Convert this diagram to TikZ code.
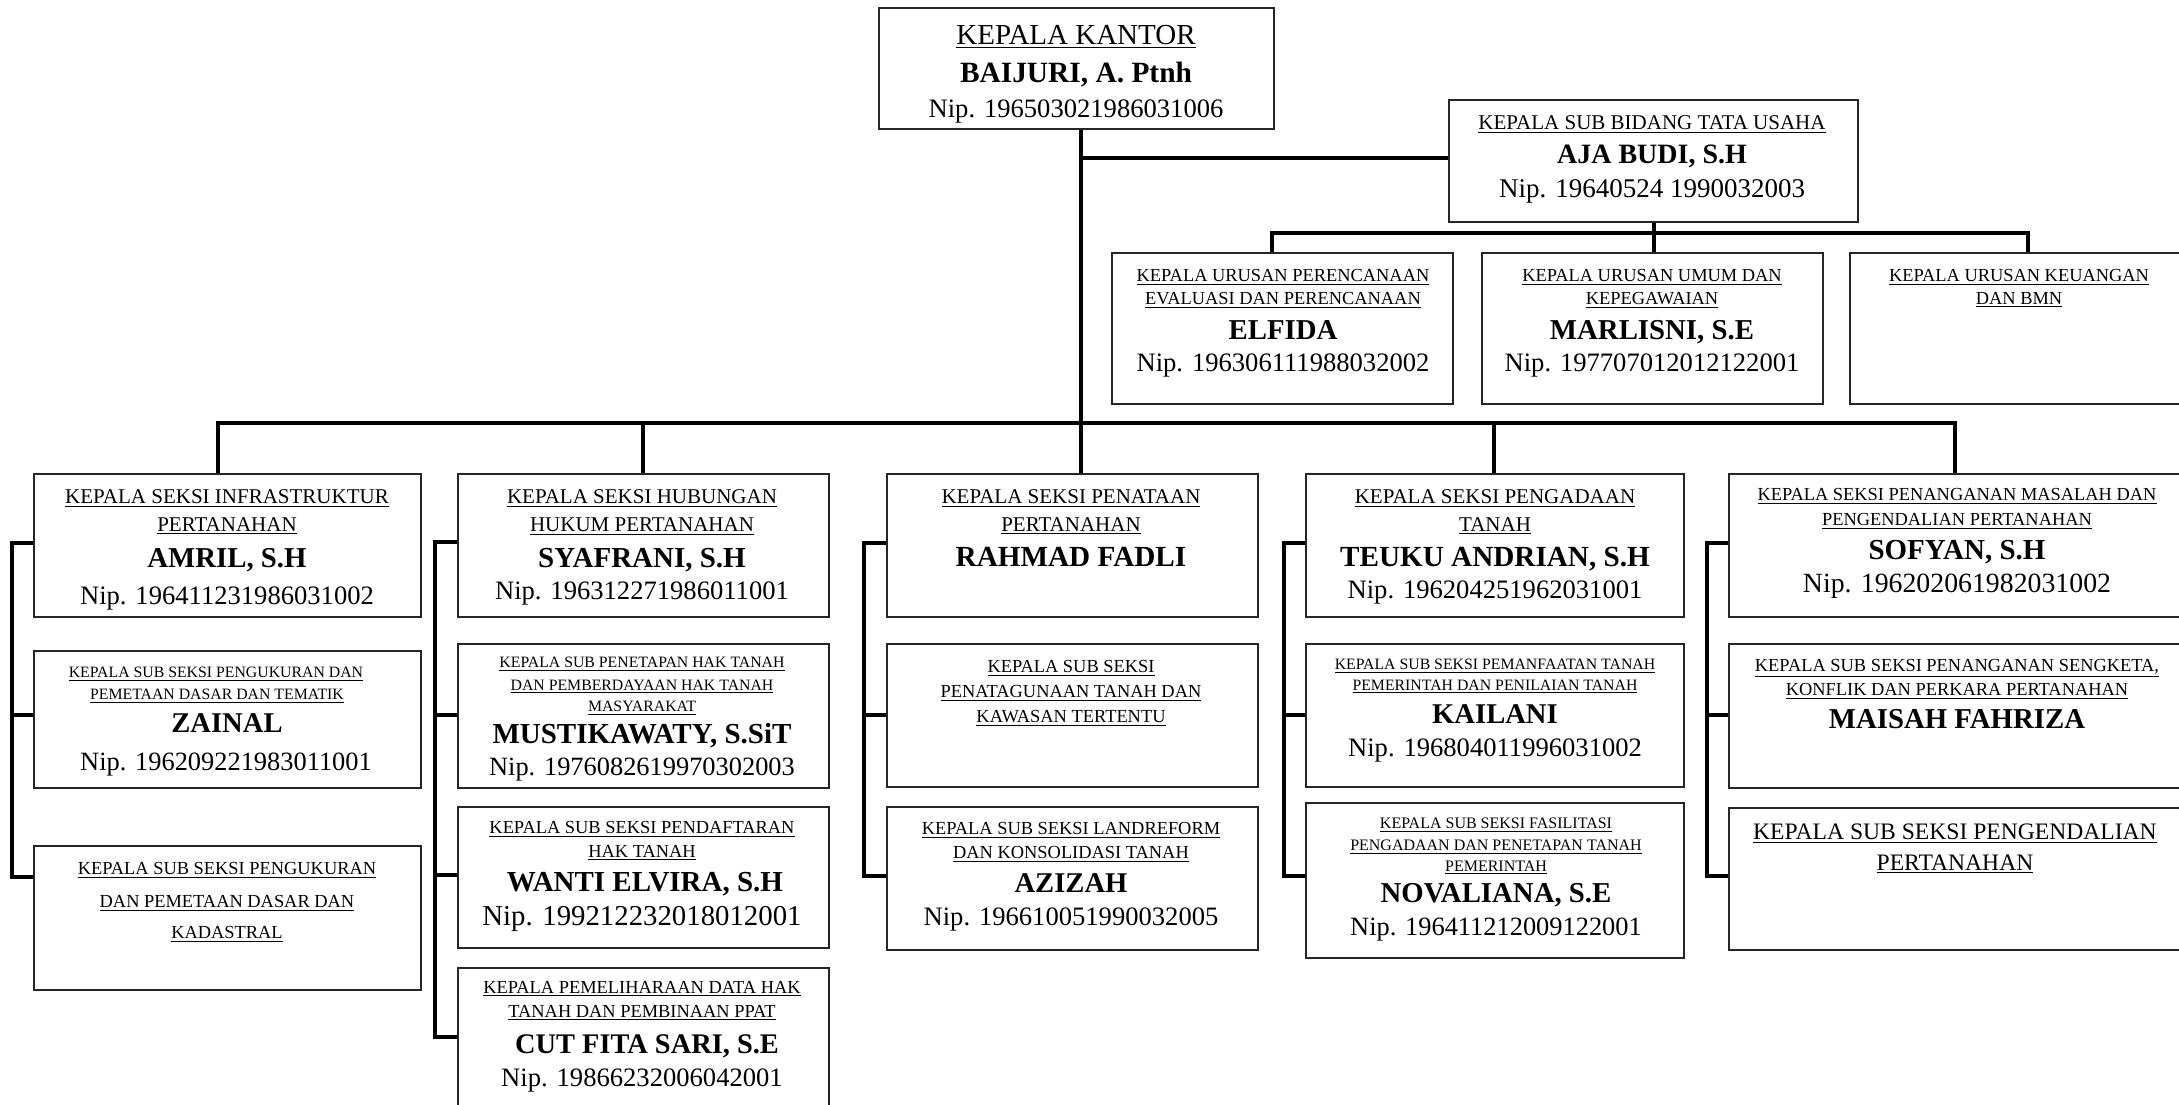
\documentclass[tikz,border=0pt]{standalone}
\usepackage{fontspec}
\setmainfont{Liberation Serif}

% box given by its top-left and bottom-right corners (in px units)
\newcommand\obox[5]{%
  \pgfmathsetmacro\obw{(#4-#2)*0.5}%
  \pgfmathsetmacro\obh{(#5-#3)*0.5}%
  \node[orgbox, anchor=north west, minimum width=\obw pt, minimum height=\obh pt] (#1) at (#2,#3) {};}
% one line of text, centred at x, sitting on baseline y, font size in pt
\newcommand\oline[5]{\node[lbl] (#1) at (#2,#3) {\fontsize{#4pt}{#4pt}\selectfont #5};}
\newcommand\otitle[5]{\oline{#1}{#2}{#3}{#4}{\underline{#5}}}
\newcommand\oname[5]{\oline{#1}{#2}{#3}{#4}{\bfseries #5}}

\begin{document}
\begin{tikzpicture}[x=0.5pt,y=-0.5pt,
  orgbox/.style={draw=black!85, line width=0.9pt, rectangle, inner sep=0pt},
  conn/.style={draw=black, line width=2pt, line join=miter},
  lbl/.style={anchor=base, inner sep=0pt, text=black}]

\useasboundingbox (0,0) rectangle (2179,1104);
\clip (0,0) rectangle (2179,1104);

% ---------- boxes ----------
\obox{kantor}{878}{7}{1273}{128}
\obox{ajabudi}{1448}{99}{1857}{221}
\obox{elfida}{1111}{252}{1452}{403}
\obox{marlisni}{1481}{252}{1822}{403}
\obox{keuangan}{1849}{252}{2189}{403}

\obox{amril}{33}{473}{420}{616}
\obox{zainal}{33}{650}{420}{787}
\obox{kadastral}{33}{845}{420}{989}

\obox{syafrani}{457}{473}{828}{616}
\obox{musti}{457}{643}{828}{787}
\obox{wanti}{457}{806}{828}{947}
\obox{cut}{457}{967}{828}{1130}

\obox{rahmad}{886}{473}{1257}{616}
\obox{tatagunaan}{886}{643}{1257}{786}
\obox{azizah}{886}{806}{1257}{949}

\obox{teuku}{1305}{473}{1683}{616}
\obox{kailani}{1305}{643}{1683}{786}
\obox{novaliana}{1305}{802}{1683}{957}

\obox{sofyan}{1728}{473}{2188}{616}
\obox{maisah}{1728}{643}{2188}{787}
\obox{kendali}{1728}{807}{2188}{949}

% ---------- texts ----------
\otitle{t-kk1}{1076}{44}{14.5}{KEPALA KANTOR}
\oname{t-kk2}{1076}{82}{14.7}{BAIJURI, A. Ptnh}
\oline{t-kk3}{1076}{117}{13.3}{Nip. 196503021986031006}

\otitle{t-ab1}{1652}{129}{10.5}{KEPALA SUB BIDANG TATA USAHA}
\oname{t-ab2}{1652}{163}{14}{AJA BUDI, S.H}
\oline{t-ab3}{1652}{197}{13.5}{Nip. 19640524 1990032003}

\otitle{t-el1}{1283}{281}{9.2}{KEPALA URUSAN PERENCANAAN}
\otitle{t-el2}{1283}{304}{9.2}{EVALUASI DAN PERENCANAAN}
\oname{t-el3}{1283}{339}{14.4}{ELFIDA}
\oline{t-el4}{1283}{371}{13.3}{Nip. 196306111988032002}

\otitle{t-ml1}{1652}{281}{9.2}{KEPALA URUSAN UMUM DAN}
\otitle{t-ml2}{1652}{304}{9.2}{KEPEGAWAIAN}
\oname{t-ml3}{1652}{339}{14.4}{MARLISNI, S.E}
\oline{t-ml4}{1652}{371}{13.3}{Nip. 197707012012122001}

\otitle{t-ku1}{2019}{281}{9.2}{KEPALA URUSAN KEUANGAN}
\otitle{t-ku2}{2019}{304}{9.2}{DAN BMN}

% column 1
\otitle{t-am1}{227}{503}{10.5}{KEPALA SEKSI INFRASTRUKTUR}
\otitle{t-am2}{227}{531}{10.5}{PERTANAHAN}
\oname{t-am3}{227}{567}{14.4}{AMRIL, S.H}
\oline{t-am4}{227}{604}{13.3}{Nip. 196411231986031002}

\otitle{t-za1}{216}{677}{7.9}{KEPALA SUB SEKSI PENGUKURAN DAN}
\otitle{t-za2}{217}{699}{7.9}{PEMETAAN DASAR DAN TEMATIK}
\oname{t-za3}{227}{732}{14.3}{ZAINAL}
\oline{t-za4}{226}{770}{13.2}{Nip. 196209221983011001}

\otitle{t-kd1}{227}{874}{9.2}{KEPALA SUB SEKSI PENGUKURAN}
\otitle{t-kd2}{227}{907}{9.2}{DAN PEMETAAN DASAR DAN}
\otitle{t-kd3}{227}{938}{9.2}{KADASTRAL}

% column 2
\otitle{t-sy1}{642}{503}{10.5}{KEPALA SEKSI HUBUNGAN}
\otitle{t-sy2}{642}{531}{10.5}{HUKUM PERTANAHAN}
\oname{t-sy3}{642}{567}{14.5}{SYAFRANI, S.H}
\oline{t-sy4}{642}{599}{13.3}{Nip. 196312271986011001}

\otitle{t-mu1}{642}{667}{7.9}{KEPALA SUB PENETAPAN HAK TANAH}
\otitle{t-mu2}{642}{690}{7.9}{DAN PEMBERDAYAAN HAK TANAH}
\otitle{t-mu3}{642}{711}{7.9}{MASYARAKAT}
\oname{t-mu4}{642}{743}{14.5}{MUSTIKAWATY, S.SiT}
\oline{t-mu5}{642}{775}{13.2}{Nip. 1976082619970302003}

\otitle{t-wa1}{642}{833}{9.2}{KEPALA SUB SEKSI PENDAFTARAN}
\otitle{t-wa2}{642}{857}{9.2}{HAK TANAH}
\oname{t-wa3}{645}{891}{14.5}{WANTI ELVIRA, S.H}
\oline{t-wa4}{642}{925}{14.4}{Nip. 199212232018012001}

\otitle{t-cu1}{642}{993}{9.2}{KEPALA PEMELIHARAAN DATA HAK}
\otitle{t-cu2}{642}{1017}{9.2}{TANAH DAN PEMBINAAN PPAT}
\oname{t-cu3}{647}{1053}{14.2}{CUT FITA SARI, S.E}
\oline{t-cu4}{642}{1086}{13.3}{Nip. 19866232006042001}

% column 3
\otitle{t-ra1}{1071}{503}{10.5}{KEPALA SEKSI PENATAAN}
\otitle{t-ra2}{1071}{531}{10.5}{PERTANAHAN}
\oname{t-ra3}{1071}{566}{14.6}{RAHMAD FADLI}

\otitle{t-tg1}{1071}{672}{9.2}{KEPALA SUB SEKSI}
\otitle{t-tg2}{1071}{697}{9.2}{PENATAGUNAAN TANAH DAN}
\otitle{t-tg3}{1071}{722}{9.2}{KAWASAN TERTENTU}

\otitle{t-az1}{1071}{834}{9.2}{KEPALA SUB SEKSI LANDREFORM}
\otitle{t-az2}{1071}{858}{9.2}{DAN KONSOLIDASI TANAH}
\oname{t-az3}{1071}{892}{14.3}{AZIZAH}
\oline{t-az4}{1071}{925}{13.3}{Nip. 196610051990032005}

% column 4
\otitle{t-te1}{1495}{503}{10.5}{KEPALA SEKSI PENGADAAN}
\otitle{t-te2}{1495}{531}{10.5}{TANAH}
\oname{t-te3}{1495}{566}{14.6}{TEUKU ANDRIAN, S.H}
\oline{t-te4}{1495}{598}{13.3}{Nip. 196204251962031001}

\otitle{t-ka1}{1495}{669}{7.9}{KEPALA SUB SEKSI PEMANFAATAN TANAH}
\otitle{t-ka2}{1495}{690}{7.9}{PEMERINTAH DAN PENILAIAN TANAH}
\oname{t-ka3}{1495}{723}{14.3}{KAILANI}
\oline{t-ka4}{1495}{756}{13.3}{Nip. 196804011996031002}

\otitle{t-no1}{1496}{828}{8}{KEPALA SUB SEKSI FASILITASI}
\otitle{t-no2}{1496}{850}{8}{PENGADAAN DAN PENETAPAN TANAH}
\otitle{t-no3}{1496}{871}{8}{PEMERINTAH}
\oname{t-no4}{1496}{902}{14.4}{NOVALIANA, S.E}
\oline{t-no5}{1496}{935}{13.2}{Nip. 196411212009122001}

% column 5
\otitle{t-so1}{1957}{500}{9.2}{KEPALA SEKSI PENANGANAN MASALAH DAN}
\otitle{t-so2}{1957}{525}{9.2}{PENGENDALIAN PERTANAHAN}
\oname{t-so3}{1957}{559}{14.5}{SOFYAN, S.H}
\oline{t-so4}{1957}{592}{13.9}{Nip. 196202061982031002}

\otitle{t-ma1}{1957}{671}{9.2}{KEPALA SUB SEKSI PENANGANAN SENGKETA,}
\otitle{t-ma2}{1957}{695}{9.2}{KONFLIK DAN PERKARA PERTANAHAN}
\oname{t-ma3}{1957}{728}{14.4}{MAISAH FAHRIZA}

\otitle{t-pe1}{1955}{839}{11.8}{KEPALA SUB SEKSI PENGENDALIAN}
\otitle{t-pe2}{1955}{870}{11.8}{PERTANAHAN}

% ---------- connectors ----------
\coordinate (trunk) at (1081,423);
\coordinate (tu) at (1081,158);
\draw[conn] (kantor.south -| trunk) -- (rahmad.north -| trunk);
\draw[conn] (tu) -- (tu -| ajabudi.west);

\coordinate (ua) at (1272,233);
\coordinate (ub) at (1654,233);
\coordinate (uc) at (2028,233);
\draw[conn] (ajabudi.south -| ub) -- (ub |- marlisni.north);
\draw[conn] (ua |- elfida.north) -- (ua) -- (uc) -- (uc |- keuangan.north);

\coordinate (d1) at (218,423);
\coordinate (d2) at (643,423);
\coordinate (d4) at (1494,423);
\coordinate (d5) at (1955,423);
\draw[conn] (d1 |- amril.north) -- (d1) -- (d5) -- (d5 |- sofyan.north);
\draw[conn] (d2) -- (d2 |- syafrani.north);
\draw[conn] (d4) -- (d4 |- teuku.north);

% column brackets
\coordinate (k11) at (12,543);
\coordinate (k12) at (12,715);
\coordinate (k13) at (12,877);
\draw[conn] (k11 -| amril.west) -- (k11) -- (k13) -- (k13 -| kadastral.west);
\draw[conn] (k12) -- (k12 -| zainal.west);

\coordinate (k21) at (435,542);
\coordinate (k22) at (435,715);
\coordinate (k23) at (435,875);
\coordinate (k24) at (435,1037);
\draw[conn] (k21 -| syafrani.west) -- (k21) -- (k24) -- (k24 -| cut.west);
\draw[conn] (k22) -- (k22 -| musti.west);
\draw[conn] (k23) -- (k23 -| wanti.west);

\coordinate (k31) at (864,543);
\coordinate (k32) at (864,715);
\coordinate (k33) at (864,876);
\draw[conn] (k31 -| rahmad.west) -- (k31) -- (k33) -- (k33 -| azizah.west);
\draw[conn] (k32) -- (k32 -| tatagunaan.west);

\coordinate (k41) at (1284,543);
\coordinate (k42) at (1284,715);
\coordinate (k43) at (1284,876);
\draw[conn] (k41 -| teuku.west) -- (k41) -- (k43) -- (k43 -| novaliana.west);
\draw[conn] (k42) -- (k42 -| kailani.west);

\coordinate (k51) at (1707,543);
\coordinate (k52) at (1707,715);
\coordinate (k53) at (1707,876);
\draw[conn] (k51 -| sofyan.west) -- (k51) -- (k53) -- (k53 -| kendali.west);
\draw[conn] (k52) -- (k52 -| maisah.west);

\end{tikzpicture}
\end{document}
